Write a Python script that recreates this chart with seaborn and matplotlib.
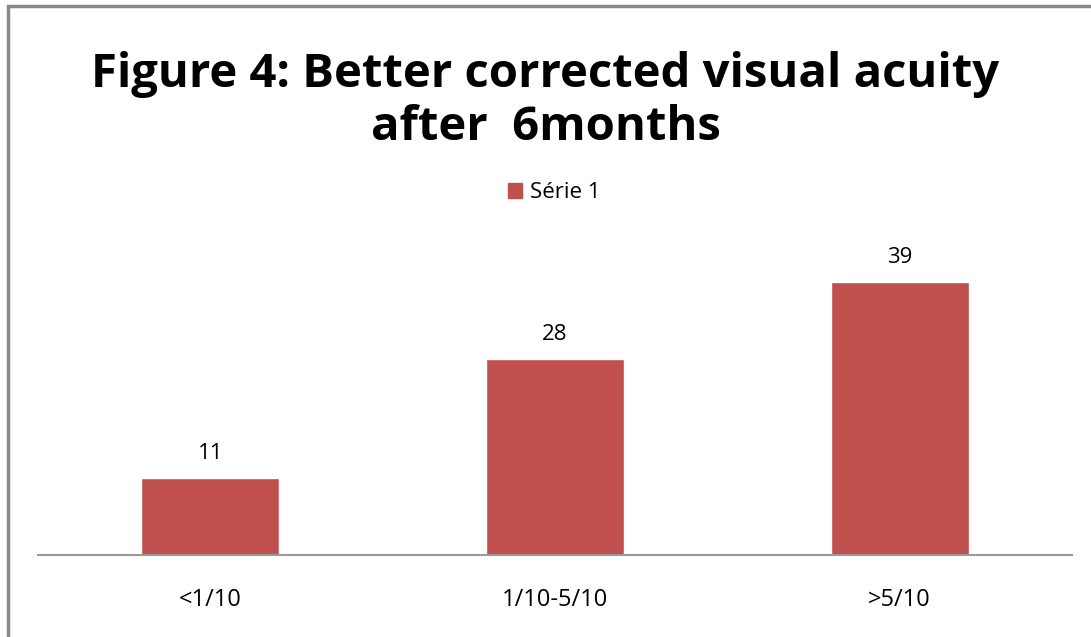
import matplotlib
matplotlib.use("Agg")
import matplotlib.pyplot as plt
import seaborn as sns
import pandas as pd
from matplotlib.patches import Rectangle

categories = ["<1/10", "1/10-5/10", ">5/10"]
values = [11, 28, 39]
series_name = "Série 1"
title = "Figure 4: Better corrected visual acuity\nafter  6months"

bar_color = "#C0504D"

sns.set_style("white")
plt.rcParams["font.family"] = ["Open Sans", "DejaVu Sans"]
plt.rcParams["text.color"] = "black"

df = pd.DataFrame({"category": categories, "value": values, "series": series_name})

fig = plt.figure(figsize=(10.91, 6.37), dpi=100)
ax = fig.add_axes([38 / 1091, 1 - 555 / 637, 1034 / 1091, 315 / 637])

sns.barplot(data=df, x="category", y="value", hue="series", palette=[bar_color],
            saturation=1, width=0.4, ax=ax, legend=False)

ax.set_xlim(-0.5, 2.5)
ax.set_ylim(0, 45)
for c in ax.containers:
    ax.bar_label(c, labels=[str(v) for v in values], padding=10, fontsize=16,
                 color="black")

for side in ["top", "right", "left"]:
    ax.spines[side].set_visible(False)
ax.spines["bottom"].set_color("#999999")
ax.spines["bottom"].set_linewidth(1.5)
ax.set_yticks([])
ax.set_xlabel("")
ax.set_ylabel("")
ax.tick_params(axis="x", length=0, pad=24, labelsize=17, labelcolor="black")

fig.text(0.5, 1 - 101 / 637, title, ha="center", va="center",
         fontsize=34, fontweight="bold", linespacing=1.18, color="black")

handle = Rectangle((0, 0), 1, 1, color=bar_color)
fig.legend([handle], [series_name], loc="center", bbox_to_anchor=(0.508, 1 - 193 / 637),
           frameon=False, fontsize=16, handlelength=0.65, handleheight=0.65,
           handletextpad=0.35)

border = Rectangle((8 / 1091, -0.1), 1.2, 1 - 6 / 637 + 0.1, transform=fig.transFigure,
                   fill=False, edgecolor="#888888", linewidth=2.5, clip_on=False)
fig.patches.append(border)

fig.savefig("out.png", dpi=100)
